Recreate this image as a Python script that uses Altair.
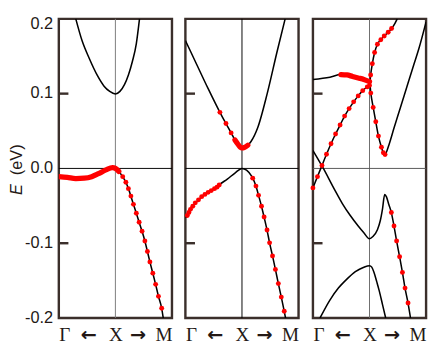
import altair as alt
import pandas as pd

FRAME = "#3b2f2b"
RED = "#ff0000"
TXT = "#231815"

# ---------------- Panel 1 ----------------
p1_cb_k = [0.30, 0.41, 0.533, 0.683, 0.80, 0.90, 1.0, 1.08, 1.16, 1.23, 1.30, 1.37, 1.426]
p1_cb_E = [0.200, 0.171, 0.148, 0.124, 0.110, 0.103, 0.0995, 0.103, 0.112, 0.125, 0.143, 0.167, 0.200]
p1_vb_k = [0.0, 0.15, 0.30, 0.45, 0.58, 0.70, 0.833, 0.95, 1.0, 1.06, 1.129, 1.185, 1.230, 1.274,
           1.319, 1.370, 1.420, 1.471, 1.521, 1.566, 1.610, 1.661, 1.711, 1.761, 1.818, 1.846]
p1_vb_E = [-0.011, -0.012, -0.0135, -0.013, -0.011, -0.007, -0.002, 0.001, 0.0, -0.004, -0.011,
           -0.0185, -0.027, -0.037, -0.048, -0.060, -0.072, -0.084, -0.097, -0.111, -0.125, -0.140,
           -0.155, -0.171, -0.187, -0.200]
p1_dense_k = p1_vb_k[:10]
p1_dense_E = p1_vb_E[:10]
p1_dot_k = p1_vb_k[10:25]
p1_dot_E = p1_vb_E[10:25]

# ---------------- Panel 2 ----------------
p2_cb_k = [0.0, 0.2, 0.4, 0.61, 0.717, 0.808, 0.876, 0.932, 0.97, 1.0, 1.04, 1.103, 1.16, 1.276, 1.448, 1.62, 1.763]
p2_cb_E = [0.171, 0.139, 0.107, 0.075, 0.060, 0.0475, 0.038, 0.032, 0.0285, 0.0275, 0.028, 0.031, 0.036,
           0.054, 0.1007, 0.156, 0.200]
p2_vb_k = [0.0, 0.034, 0.062, 0.09, 0.13, 0.175, 0.232, 0.288, 0.345, 0.402, 0.458, 0.514, 0.559, 0.598,
           0.741, 0.881, 1.0, 1.081, 1.167, 1.19, 1.247, 1.293, 1.345, 1.391, 1.443, 1.488, 1.540,
           1.591, 1.643, 1.695, 1.747, 1.77]
p2_vb_E = [-0.066, -0.063, -0.059, -0.0547, -0.0505, -0.046, -0.042, -0.0377, -0.0347, -0.032, -0.0296,
           -0.027, -0.025, -0.022, -0.0143, -0.0058, 0.0, -0.0023, -0.010, -0.013, -0.0236, -0.036,
           -0.0505, -0.065, -0.0824, -0.0995, -0.117, -0.135, -0.154, -0.172, -0.191, -0.200]
p2_dense_k = p2_cb_k[6:12]
p2_dense_E = p2_cb_E[6:12]
p2_dot_k = p2_cb_k[3:6] + p2_vb_k[1:14] + p2_vb_k[19:31]
p2_dot_E = p2_cb_E[3:6] + p2_vb_E[1:14] + p2_vb_E[19:31]

# ---------------- Panel 3 ----------------
p3_a_k = [0.0, 0.30, 0.495, 0.60, 0.70, 0.80, 0.90, 1.0, 1.023, 1.065, 1.111, 1.158, 1.211, 1.245,
          1.275, 1.31, 1.35, 1.433, 1.609, 1.784, 1.872, 2.0]
p3_a_E = [0.119, 0.122, 0.1255, 0.125, 0.123, 0.121, 0.119, 0.116, 0.1007, 0.0816, 0.0624, 0.0432,
          0.0284, 0.021, 0.0185, 0.024, 0.033, 0.054, 0.0965, 0.139, 0.160, 0.196]
p3_b_k = [0.0, 0.08, 0.16, 0.24, 0.32, 0.40, 0.48, 0.56, 0.64, 0.72, 0.80, 0.88, 0.96, 1.0, 1.02,
          1.05, 1.09, 1.14, 1.2, 1.26, 1.33, 1.39, 1.45, 1.49]
p3_b_E = [-0.026, -0.011, 0.004, 0.019, 0.033, 0.046, 0.058, 0.070, 0.080, 0.089, 0.097, 0.104, 0.109,
          0.111, 0.125, 0.140, 0.155, 0.166, 0.172, 0.177, 0.182, 0.187, 0.194, 0.200]
p3_c_k = [0.0, 0.17, 0.38, 0.52, 0.66, 0.80, 0.90, 1.0, 1.06, 1.14, 1.19, 1.23, 1.268, 1.30, 1.34,
          1.386, 1.433, 1.479, 1.532, 1.582, 1.628, 1.681, 1.725]
p3_c_E = [0.024, 0.002, -0.028, -0.047, -0.063, -0.077, -0.086, -0.094, -0.091, -0.082, -0.070, -0.054,
          -0.035, -0.038, -0.048, -0.059, -0.077, -0.097, -0.118, -0.139, -0.160, -0.180, -0.200]
p3_d_k = [0.125, 0.30, 0.45, 0.60, 0.75, 0.90, 1.0, 1.04, 1.08, 1.13, 1.17, 1.23, 1.286]
p3_d_E = [-0.200, -0.176, -0.160, -0.148, -0.138, -0.132, -0.130, -0.132, -0.139, -0.152, -0.163,
          -0.182, -0.200]
p3_dense_k = p3_a_k[2:8]
p3_dense_E = p3_a_E[2:8]
p3_dot_k = p3_a_k[8:15] + p3_b_k[:22] + p3_c_k[15:22]
p3_dot_E = p3_a_E[8:15] + p3_b_E[:22] + p3_c_E[15:22]

x_ticks = [0, 0.52, 1, 1.39, 2]
y_ticks = [-0.2, -0.1, 0.0, 0.1, 0.2]
y_labels = ["-0.2", "-0.1", "0.0", "0.1", "0.2"]
x_label_expr = ("datum.value == 0 ? 'Γ' : datum.value == 1 ? 'X' : datum.value == 2 ? 'M' : "
                "datum.value < 1 ? '←' : '→'")
ARROW_TEST = "datum.value == 0.52 || datum.value == 1.39"
PLOT_H = 312


def bands(*pairs):
    frames = []
    for i, (k, e) in enumerate(pairs):
        frames.append(pd.DataFrame({"k": k, "E": e, "band": i}))
    return pd.concat(frames, ignore_index=True)


def make_panel(line_df, dense_df, dot_df, zero_color, xline_color, first):
    xs = alt.Scale(domain=[0, 2], nice=False, zero=False)
    ys = alt.Scale(domain=[-0.2, 0.2], nice=False, zero=False)
    x_axis = alt.Axis(values=x_ticks, labelExpr=x_label_expr, labelFlush=True, ticks=False,
                      domain=False, grid=False, title=None, labelPadding=7,
                      labelFont={"condition": {"test": ARROW_TEST, "value": "DejaVu Sans"},
                                 "value": "Liberation Serif"},
                      labelFontWeight={"condition": {"test": ARROW_TEST, "value": "bold"},
                                       "value": "normal"},
                      labelFontSize=20,
                      labelColor=TXT)
    X = alt.X("k:Q", scale=xs, axis=x_axis)
    Y = alt.Y("E:Q", scale=ys, axis=None)

    zero = alt.Chart(pd.DataFrame({"E": [0.0]})).mark_rule(color=zero_color, strokeWidth=1).encode(y=Y)
    xl = alt.Chart(pd.DataFrame({"k": [1.0]})).mark_rule(color=xline_color, strokeWidth=1).encode(x=X)
    ticks = alt.Chart(pd.DataFrame({"E": [-0.1, 0.1]})).mark_rule(color=FRAME, strokeWidth=2.5).encode(
        y=Y, x=alt.value(0), x2=alt.value(10))
    lines = alt.Chart(line_df).mark_line(color="black", strokeWidth=1.6, interpolate="monotone",
                                         clip=True).encode(x=X, y=Y, detail="band:N")
    dense = alt.Chart(dense_df).mark_line(color=RED, strokeWidth=5.5, interpolate="monotone",
                                          strokeCap="round", clip=True).encode(x=X, y=Y)
    dots = alt.Chart(dot_df).mark_circle(color=RED, size=26, opacity=1).encode(x=X, y=Y)
    layers = [xl, zero, ticks, lines, dense, dots]
    if first:
        lab_df = pd.DataFrame({"E": y_ticks, "lab": y_labels})
        ylab = alt.Chart(lab_df[lab_df["E"] < 0.15]).mark_text(
            align="right", baseline="middle", dx=-6, font="Liberation Sans", fontSize=17, color=TXT
        ).encode(x=alt.value(0), y=Y, text="lab:N")
        ylab_top = alt.Chart(lab_df[lab_df["E"] > 0.15]).mark_text(
            align="right", baseline="top", dx=-6, dy=-2, font="Liberation Sans", fontSize=17, color=TXT
        ).encode(x=alt.value(0), y=Y, text="lab:N")
        e_txt = alt.Chart(pd.DataFrame({"t": ["E"]})).mark_text(
            angle=270, fontStyle="italic", font="Liberation Sans", fontSize=17, color=TXT
        ).encode(x=alt.value(-43), y=alt.value(178), text="t:N")
        ev_txt = alt.Chart(pd.DataFrame({"t": ["(eV)"]})).mark_text(
            angle=270, font="Liberation Sans", fontSize=17, color=TXT
        ).encode(x=alt.value(-43), y=alt.value(147), text="t:N")
        layers += [ylab, ylab_top, e_txt, ev_txt]
    return alt.layer(*layers).properties(width=118, height=PLOT_H)


panel1 = make_panel(bands((p1_cb_k, p1_cb_E), (p1_vb_k, p1_vb_E)),
                    pd.DataFrame({"k": p1_dense_k, "E": p1_dense_E}),
                    pd.DataFrame({"k": p1_dot_k, "E": p1_dot_E}),
                    "black", "#7a7a7a", True)
panel2 = make_panel(bands((p2_cb_k, p2_cb_E), (p2_vb_k, p2_vb_E)),
                    pd.DataFrame({"k": p2_dense_k, "E": p2_dense_E}),
                    pd.DataFrame({"k": p2_dot_k, "E": p2_dot_E}),
                    "black", "black", False)
panel3 = make_panel(bands((p3_a_k, p3_a_E), (p3_b_k, p3_b_E), (p3_c_k, p3_c_E), (p3_d_k, p3_d_E)),
                    pd.DataFrame({"k": p3_dense_k, "E": p3_dense_E}),
                    pd.DataFrame({"k": p3_dot_k, "E": p3_dot_E}),
                    "#555555", "#6a6a6a", False)

chart = alt.hconcat(panel1, panel2, panel3, spacing=9).properties(
    padding={"left": -1, "top": -1, "right": 0, "bottom": -4}
).configure(background="white").configure_view(stroke=FRAME, strokeWidth=2.5)

chart.save("out.html", embed_options={"renderer": "svg", "actions": False})
